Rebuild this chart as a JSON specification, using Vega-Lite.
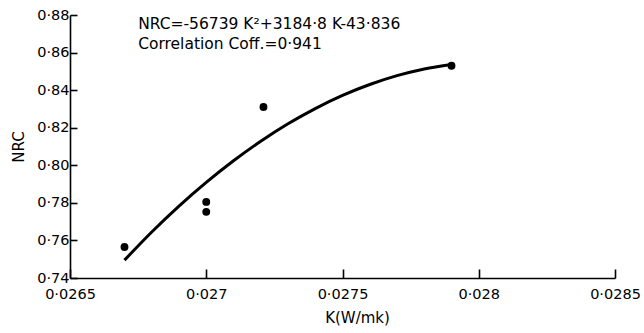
{
  "$schema": "https://vega.github.io/schema/vega-lite/v6.json",
  "width": 545,
  "height": 263,
  "autosize": {"type": "none"},
  "padding": {"left": 70, "top": 15, "right": 29, "bottom": 55},
  "background": "white",
  "config": {
    "view": {"stroke": null},
    "font": "DejaVu Sans",
    "axis": {
      "grid": false,
      "domainColor": "black",
      "domainWidth": 1.6,
      "tickColor": "black",
      "tickWidth": 1.6,
      "labelColor": "black",
      "labelFont": "DejaVu Sans",
      "labelFontSize": 14.5,
      "labelOverlap": false,
      "labelBound": false,
      "labelFlush": false,
      "titleFont": "DejaVu Sans",
      "titleFontSize": 15,
      "titleFontWeight": "normal",
      "titleColor": "black"
    }
  },
  "datasets": {
    "points": [
      {"K": 0.0267, "NRC": 0.7565},
      {"K": 0.0270, "NRC": 0.7805},
      {"K": 0.0270, "NRC": 0.7752},
      {"K": 0.02721, "NRC": 0.8310},
      {"K": 0.02790, "NRC": 0.8530}
    ],
    "fit": [
      {"K": 0.0267, "NRC": 0.7495},
      {"K": 0.0268, "NRC": 0.7645},
      {"K": 0.0269, "NRC": 0.7783},
      {"K": 0.0270, "NRC": 0.7909},
      {"K": 0.0271, "NRC": 0.8024},
      {"K": 0.0272, "NRC": 0.8128},
      {"K": 0.0273, "NRC": 0.8221},
      {"K": 0.0274, "NRC": 0.8302},
      {"K": 0.0275, "NRC": 0.8372},
      {"K": 0.0276, "NRC": 0.8430},
      {"K": 0.0277, "NRC": 0.8477},
      {"K": 0.0278, "NRC": 0.8513},
      {"K": 0.0279, "NRC": 0.8537}
    ],
    "notes": [
      {"K": 0.02675, "NRC": 0.8752, "label": "NRC=-56739 K²+3184·8 K-43·836"},
      {"K": 0.02675, "NRC": 0.8645, "label": "Correlation  Coff.=0·941"}
    ]
  },
  "layer": [
    {
      "data": {"name": "fit"},
      "mark": {"type": "line", "color": "black", "strokeWidth": 3, "interpolate": "monotone"},
      "encoding": {
        "x": {
          "field": "K", "type": "quantitative",
          "scale": {"domain": [0.0265, 0.0285], "nice": false, "zero": false},
          "axis": {
            "values": [0.0265, 0.027, 0.0275, 0.028, 0.0285],
            "tickCount": 10,
            "tickSize": -9,
            "labelPadding": 18,
            "labelOverlap": false,
            "labelExpr": "replace(format(datum.value, '~g'), '.', '·')",
            "title": "K(W/mk)",
            "titlePadding": 10,
            "titleX": 287
          }
        },
        "y": {
          "field": "NRC", "type": "quantitative",
          "scale": {"domain": [0.74, 0.88], "nice": false, "zero": false},
          "axis": {
            "values": [0.74, 0.76, 0.78, 0.8, 0.82, 0.84, 0.86, 0.88],
            "tickCount": 10,
            "tickSize": -7,
            "labelPadding": 8,
            "labelOverlap": false,
            "labelExpr": "replace(format(datum.value, '.2f'), '.', '·')",
            "title": "NRC",
            "titlePadding": 10
          }
        }
      }
    },
    {
      "data": {"name": "points"},
      "mark": {"type": "point", "filled": true, "color": "black", "opacity": 1, "size": 62},
      "encoding": {
        "x": {"field": "K", "type": "quantitative"},
        "y": {"field": "NRC", "type": "quantitative"}
      }
    },
    {
      "data": {"name": "notes"},
      "mark": {"type": "text", "align": "left", "baseline": "middle", "fontSize": 15.5, "color": "black", "font": "DejaVu Sans"},
      "encoding": {
        "x": {"field": "K", "type": "quantitative"},
        "y": {"field": "NRC", "type": "quantitative"},
        "text": {"field": "label"}
      }
    }
  ]
}
